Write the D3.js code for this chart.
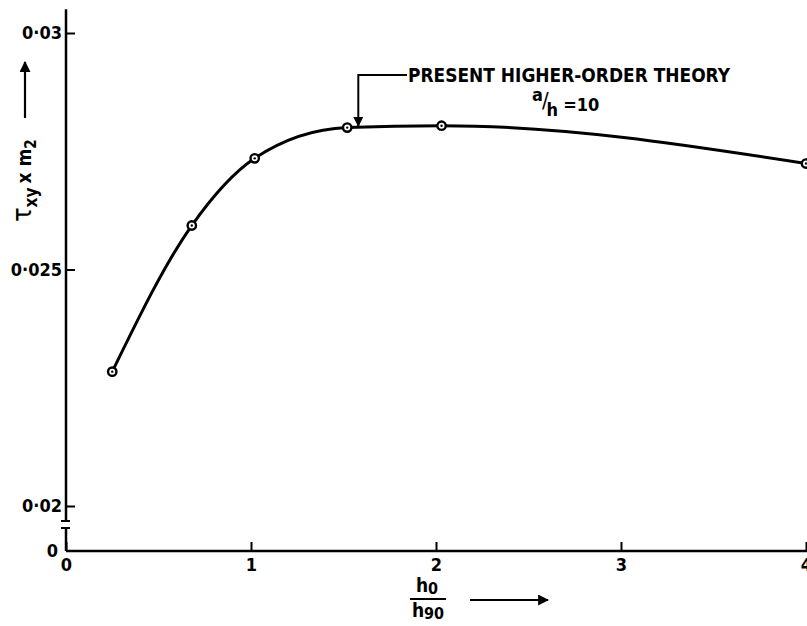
<!DOCTYPE html>
<html>
<head>
<meta charset="utf-8">
<script src="https://cdn.jsdelivr.net/npm/d3@7"></script>
<style>
  body { margin: 0; background: #fff; }
  svg text { font-family: "DejaVu Sans Condensed", "DejaVu Sans", sans-serif; font-weight: bold; fill: #000; }
</style>
</head>
<body>
<svg width="807" height="626"></svg>
<script>
// values
var ratio = [0.25, 0.68, 1.02, 1.52, 2.03, 4.0];        // h0 / h90
var stress = [0.02284, 0.02593, 0.02735, 0.02800, 0.02804, 0.02724]; // tau_xy x m2
var xTicks = [0, 1, 2, 3, 4];
var yTicks = [0.02, 0.025, 0.03];

var svg = d3.select("svg");

var x = d3.scaleLinear().domain([0, 4]).range([66, 806]);
var y = d3.scaleLinear().domain([0.02, 0.03]).range([506, 33]);
var baseY = 551; // where the broken y axis reaches 0

var data = ratio.map((r, i) => ({x: r, y: stress[i]}));

// x axis
var xAxis = svg.append("g")
    .attr("transform", "translate(0," + baseY + ")")
    .call(d3.axisBottom(x).tickValues(xTicks).tickSizeInner(-9).tickSizeOuter(0).tickPadding(7).tickFormat(d3.format("d")));
xAxis.select(".domain").remove();
xAxis.selectAll("line").attr("stroke", "#000").attr("stroke-width", 2);
xAxis.selectAll("text").style("font-size", "18px");

svg.append("line")
    .attr("x1", x(0)).attr("x2", x(4) + 2)
    .attr("y1", baseY).attr("y2", baseY)
    .attr("stroke", "#000").attr("stroke-width", 2.5);

// y axis
var yAxis = svg.append("g")
    .attr("transform", "translate(" + x(0) + ",0)")
    .call(d3.axisLeft(y).tickValues(yTicks).tickSizeInner(-9).tickSizeOuter(0).tickPadding(4)
        .tickFormat(d => String(d).replace(".", "·")));
yAxis.select(".domain").remove();
yAxis.selectAll("line").attr("stroke", "#000").attr("stroke-width", 2);
yAxis.selectAll("text").style("font-size", "18px");

// broken axis line
svg.append("line")
    .attr("x1", x(0)).attr("x2", x(0))
    .attr("y1", y(0.0305)).attr("y2", 521)
    .attr("stroke", "#000").attr("stroke-width", 2.5);
svg.append("line")
    .attr("x1", x(0)).attr("x2", x(0))
    .attr("y1", 528).attr("y2", baseY)
    .attr("stroke", "#000").attr("stroke-width", 2.5);
[521, 528].forEach(b => {
    svg.append("line")
        .attr("x1", x(0) - 5).attr("x2", x(0) + 4)
        .attr("y1", b).attr("y2", b)
        .attr("stroke", "#000").attr("stroke-width", 2);
});
svg.append("text")
    .attr("x", x(0) - 8).attr("y", baseY + 6)
    .attr("text-anchor", "end")
    .style("font-size", "18px")
    .text("0");

// curve
var line = d3.line()
    .x(d => x(d.x))
    .y(d => y(d.y))
    .curve(d3.curveMonotoneX);

svg.append("path")
    .datum(data)
    .attr("d", line)
    .attr("fill", "none")
    .attr("stroke", "#000")
    .attr("stroke-width", 3);

var pts = svg.selectAll("g.pt").data(data).enter().append("g").attr("class", "pt");
pts.append("circle")
    .attr("cx", d => x(d.x)).attr("cy", d => y(d.y))
    .attr("r", 4.2)
    .attr("fill", "#fff").attr("stroke", "#000").attr("stroke-width", 2.4);
pts.append("circle")
    .attr("cx", d => x(d.x)).attr("cy", d => y(d.y))
    .attr("r", 1.2)
    .attr("fill", "#000");

// annotation with leader arrow
var defs = svg.append("defs");
defs.append("marker")
    .attr("id", "arr")
    .attr("viewBox", "0 0 10 10")
    .attr("refX", 9).attr("refY", 5)
    .attr("markerWidth", 5).attr("markerHeight", 5)
    .attr("markerUnits", "strokeWidth")
    .attr("orient", "auto")
    .append("path").attr("d", "M0,0 L10,5 L0,10 Z").attr("fill", "#000");

var ax = x(1.58);
svg.append("path")
    .attr("d", "M407,75 L" + ax + ",75 L" + ax + ",126")
    .attr("fill", "none")
    .attr("stroke", "#000").attr("stroke-width", 2)
    .attr("marker-end", "url(#arr)");

svg.append("text")
    .attr("x", 408).attr("y", 82)
    .attr("textLength", 322).attr("lengthAdjust", "spacingAndGlyphs")
    .style("font-size", "19px")
    .text("PRESENT HIGHER-ORDER THEORY");

var ah = svg.append("text").attr("x", 532).attr("y", 101).style("font-size", "18px");
ah.append("tspan").text("a");
ah.append("tspan").attr("dx", -1).attr("dy", 7).style("font-size", "22px").style("font-weight", "normal").text("/");
ah.append("tspan").attr("dx", -2).attr("dy", 8).style("font-size", "18px").text("h");
ah.append("tspan").attr("dx", 5).attr("dy", -5).style("font-size", "18px").text("=10");

// y label
var yl = svg.append("g").attr("transform", "translate(31,222) rotate(-90)");
var ylt = yl.append("text").attr("x", 0).attr("y", 0).style("font-size", "20px");
ylt.append("tspan").style("font-weight", "normal").style("font-size", "27px").text("τ");
ylt.append("tspan").attr("dy", 6).style("font-size", "17px").text("xy");
ylt.append("tspan").attr("dy", -6).attr("dx", 4).style("font-size", "19px").text("x m");
ylt.append("tspan").attr("dy", 5).style("font-size", "15px").text("2");
yl.append("line")
    .attr("x1", 104).attr("x2", 160)
    .attr("y1", -6).attr("y2", -6)
    .attr("stroke", "#000").attr("stroke-width", 2.2)
    .attr("marker-end", "url(#arr)");

// x label as fraction
var xl = svg.append("g").attr("transform", "translate(428,0)");
var num = xl.append("text").attr("x", -1).attr("y", 592).attr("text-anchor", "middle").style("font-size", "19px");
num.append("tspan").text("h");
num.append("tspan").attr("dy", 2).style("font-size", "16px").text("0");
xl.append("line")
    .attr("x1", -18).attr("x2", 18).attr("y1", 599).attr("y2", 599)
    .attr("stroke", "#000").attr("stroke-width", 2);
var den = xl.append("text").attr("x", 0).attr("y", 617).attr("text-anchor", "middle").style("font-size", "19px");
den.append("tspan").text("h");
den.append("tspan").attr("dy", 2).style("font-size", "16px").text("90");
svg.append("line")
    .attr("x1", 470).attr("x2", 548).attr("y1", 600).attr("y2", 600)
    .attr("stroke", "#000").attr("stroke-width", 2.2)
    .attr("marker-end", "url(#arr)");
</script>
</body>
</html>
